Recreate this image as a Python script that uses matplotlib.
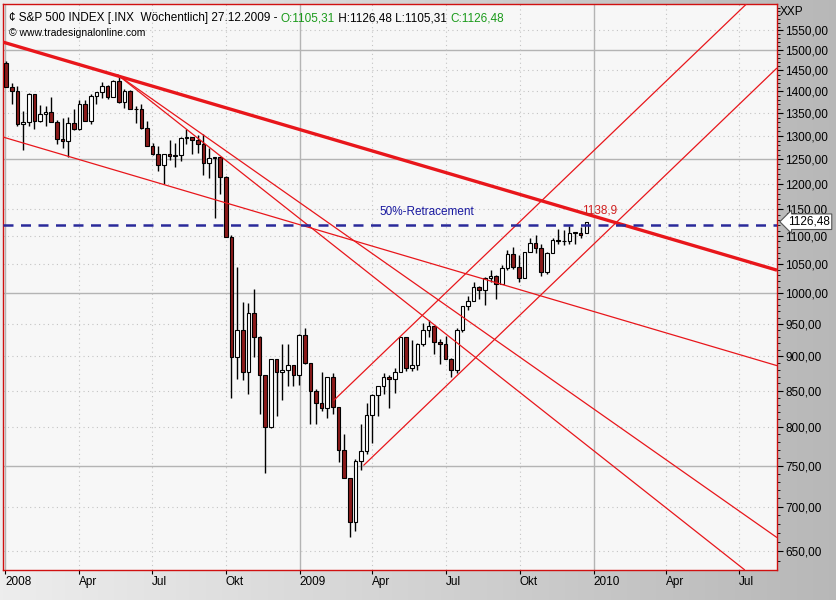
"""
S&P 500 weekly candles 2008-2009 with trend lines (Tradesignal style)
"""

import numpy as np
import matplotlib.pyplot as plt
import matplotlib.dates as mdates
from matplotlib.ticker import FixedLocator, NullFormatter

plt.rcParams['font.family'] = ['Liberation Sans', 'DejaVu Sans']

# weekly OHLC, weeks ending Friday, Jan 4 2008 .. Dec 25 2009
first_friday = np.datetime64('2008-01-04')
opens = [1468, 1411, 1401, 1325, 1330, 1395, 1332, 1349, 1353, 1331, 1294, 1288, 1329,
         1316, 1370, 1332, 1390, 1398, 1414, 1388, 1425, 1375, 1400, 1360, 1360, 1318,
         1278, 1262, 1239, 1261, 1257, 1260, 1296, 1298, 1292, 1283, 1242, 1252, 1255,
         1213, 1099, 899, 940, 877, 968, 930, 873, 800, 896, 876, 879, 887,
         873, 932, 890, 850, 832, 826, 869, 827, 770, 735, 683, 756, 769,
         816, 843, 857, 870, 866, 877, 929, 882, 887, 919, 940, 946, 921,
         918, 896, 879, 940, 979, 987, 1010, 1005, 1026, 1029, 1016, 1042, 1068,
         1044, 1025, 1071, 1087, 1079, 1036, 1069, 1093, 1091, 1091, 1106, 1106, 1105.31]
highs = [1472, 1421, 1412, 1355, 1396, 1395, 1369, 1367, 1388, 1336, 1339, 1341, 1359,
         1380, 1381, 1395, 1398, 1422, 1416, 1426, 1440, 1406, 1404, 1366, 1370, 1333,
         1285, 1278, 1262, 1292, 1284, 1297, 1314, 1298, 1302, 1303, 1274, 1256, 1255,
         1215, 1102, 1044, 985, 984, 1007, 931, 873, 896, 896, 918, 918, 887,
         934, 943, 890, 852, 877, 870, 875, 827, 790, 735, 758, 804, 833,
         845, 857, 875, 872, 883, 930, 930, 924, 920, 951, 956, 946, 926,
         931, 898, 943, 979, 996, 1018, 1012, 1027, 1039, 1031, 1048, 1074, 1080,
         1066, 1071, 1097, 1101, 1085, 1071, 1097, 1113, 1111, 1119, 1107, 1117, 1126.48]
lows = [1411, 1370, 1322, 1270, 1322, 1316, 1331, 1321, 1330, 1283, 1273, 1256, 1312,
        1313, 1332, 1325, 1371, 1385, 1382, 1386, 1373, 1362, 1359, 1328, 1314, 1278,
        1260, 1225, 1200, 1248, 1235, 1247, 1282, 1261, 1263, 1217, 1212, 1133, 1179,
        1098, 840, 866, 865, 845, 899, 818, 741, 799, 815, 837, 857, 857,
        858, 888, 804, 804, 822, 812, 818, 754, 734, 666, 672, 744, 764,
        779, 814, 845, 826, 847, 877, 878, 878, 879, 916, 930, 903, 888,
        896, 869, 875, 937, 972, 987, 990, 980, 1018, 991, 1016, 1039, 1041,
        1019, 1025, 1071, 1070, 1029, 1033, 1069, 1086, 1083, 1086, 1086, 1096, 1105.31]
closes = [1411, 1401, 1325, 1330, 1395, 1332, 1349, 1353, 1331, 1294, 1288, 1329, 1316,
          1370, 1332, 1390, 1398, 1414, 1388, 1425, 1375, 1400, 1360, 1360, 1318, 1278,
          1262, 1239, 1261, 1257, 1260, 1296, 1298, 1292, 1283, 1242, 1252, 1255, 1213,
          1099, 899, 940, 877, 968, 930, 873, 800, 896, 876, 879, 887, 873,
          932, 890, 850, 832, 826, 869, 827, 770, 735, 683, 756, 769, 816,
          843, 857, 870, 866, 877, 929, 882, 887, 919, 940, 946, 921, 918,
          896, 879, 940, 979, 987, 1010, 1005, 1026, 1029, 1016, 1042, 1068, 1044,
          1025, 1071, 1087, 1079, 1036, 1069, 1093, 1091, 1091, 1106, 1106, 1102, 1126.48]

# trend lines: (start date, start price, end date, end price)
trend_thick = ('2007-12-26', 1522, '2010-08-17', 1039)
trend_lines = [
    ('2008-05-19', 1440, '2010-07-08', 630),
    ('2008-05-19', 1440, '2010-08-17', 665),
    ('2007-12-26', 1299, '2010-08-17', 886),
    ('2009-02-12', 836, '2010-07-10', 1620),
    ('2009-03-21', 750, '2010-08-17', 1456),
]
retracement = 1121
last_close = 1126.48

price_ticks = list(range(650, 1551, 50))
major_prices = [750, 1000, 1250, 1500]
x_ticks = ['2008-01-01', '2008-04-01', '2008-07-01', '2008-10-01', '2009-01-01', '2009-04-01',
           '2009-07-01', '2009-10-01', '2010-01-01', '2010-04-01', '2010-07-01']
x_labels = ['2008', 'Apr', 'Jul', 'Okt', '2009', 'Apr', 'Jul', 'Okt', '2010', 'Apr', 'Jul']

fig = plt.figure(figsize=(8.36, 6.0), dpi=100)
fig.patch.set_facecolor('#d4d4d4')

# gradient panel behind axis labels
bg = fig.add_axes([0, 0, 1, 1], zorder=-5)
grad = np.linspace(0.93, 0.72, 256).reshape(1, -1)
bg.imshow(np.dstack([grad] * 3), aspect='auto', extent=[0, 1, 0, 1])
bg.axis('off')

ax = fig.add_axes([3 / 836, 30 / 600, 774 / 836, 566 / 600])
ax.set_facecolor('#f7f7f7')
ax.set_yscale('log')
ax.set_ylim(630, 1620)
ax.set_xlim(mdates.date2num(np.datetime64('2007-12-29')), mdates.date2num(np.datetime64('2010-08-17')))

# grid
for p in price_ticks:
    if p in major_prices:
        ax.axhline(p, color='#b4b4b4', lw=1, zorder=1)
    else:
        ax.axhline(p, color='#c4c4c4', lw=0.8, ls=(0, (1, 3)), zorder=1)
xt = [mdates.date2num(np.datetime64(d)) for d in x_ticks]
for d, lab in zip(xt, x_labels):
    if lab.isdigit():
        ax.axvline(d, color='#b4b4b4', lw=1, zorder=1)
    else:
        ax.axvline(d, color='#c4c4c4', lw=0.8, ls=(0, (1, 3)), zorder=1)

# candles
dates = mdates.date2num(first_friday + np.arange(len(closes)) * 7 - 2)
width = 4.5
for d, o, h, l, c in zip(dates, opens, highs, lows, closes):
    ax.vlines(d, l, h, color='black', lw=1, zorder=3)
    up = c >= o
    ax.bar(d, abs(c - o) if c != o else 0.5, bottom=min(o, c), width=width,
           color='white' if up else '#8b1a1a', edgecolor='black', lw=0.8, zorder=4)

# trend lines
def draw_line(spec, lw):
    d0, p0, d1, p1 = spec
    x = [mdates.date2num(np.datetime64(d0)), mdates.date2num(np.datetime64(d1))]
    ax.plot(x, [p0, p1], color='#e8161b', lw=lw, zorder=5, solid_capstyle='butt')

draw_line(trend_thick, 2.4)
for spec in trend_lines:
    draw_line(spec, 0.9)

ax.axhline(retracement, color='#2a2a9a', lw=1.8, ls=(0, (4, 3)), zorder=6)
ax.text(mdates.date2num(np.datetime64('2009-04-10')), 1140, '50%-Retracement',
        color='#1a1aa0', fontsize=8.5, zorder=7)
ax.text(mdates.date2num(np.datetime64('2009-12-18')), 1143, '1138,9',
        color='#d02020', fontsize=8.5, zorder=7)

# axes styling
for s in ax.spines.values():
    s.set_color('#d01010')
    s.set_linewidth(1)
ax.yaxis.tick_right()
ax.yaxis.set_major_locator(FixedLocator(price_ticks))
ax.yaxis.set_minor_locator(FixedLocator(list(range(640, 1611, 10))))
ax.yaxis.set_minor_formatter(NullFormatter())
ax.set_yticklabels([f'{p},00' for p in price_ticks])
ax.tick_params(axis='y', which='major', length=4, direction='out', labelsize=8.5, pad=2)
ax.tick_params(axis='y', which='minor', length=2, direction='out')
ax.set_xticks(xt)
ax.set_xticklabels(x_labels, ha='left')
ax.tick_params(axis='x', length=3, direction='out', labelsize=8.5, pad=1)

# last price marker
ax.annotate(f'{last_close:.2f}'.replace('.', ','), xy=(1.0, last_close),
            xycoords=('axes fraction', 'data'), xytext=(8, 0), textcoords='offset points',
            va='center', ha='left', fontsize=8.5,
            bbox=dict(boxstyle='larrow,pad=0.15', fc='white', ec='#555555', lw=0.8),
            annotation_clip=False, zorder=8)
fig.text(780 / 836, 1 - 12 / 600, 'XXP', fontsize=8.5, va='center')

# header
t = ax.text(0.008, 0.985, '¢ S&P 500 INDEX [.INX  Wöchentlich] 27.12.2009 - ',
            transform=ax.transAxes, fontsize=8.5, va='top', zorder=9)
parts = [('O:1105,31', '#1a9a1a'), (' H:1126,48 L:1105,31 ', 'black'), ('C:1126,48', '#1a9a1a')]
prev = t
for s, col in parts:
    prev = ax.annotate(s, xy=(1, 0), xycoords=prev, va='bottom', ha='left',
                       fontsize=8.5, color=col, zorder=9)
ax.text(0.008, 0.957, '© www.tradesignalonline.com', transform=ax.transAxes,
        fontsize=7.5, va='top', zorder=9)

fig.savefig('out.png', dpi=100)
